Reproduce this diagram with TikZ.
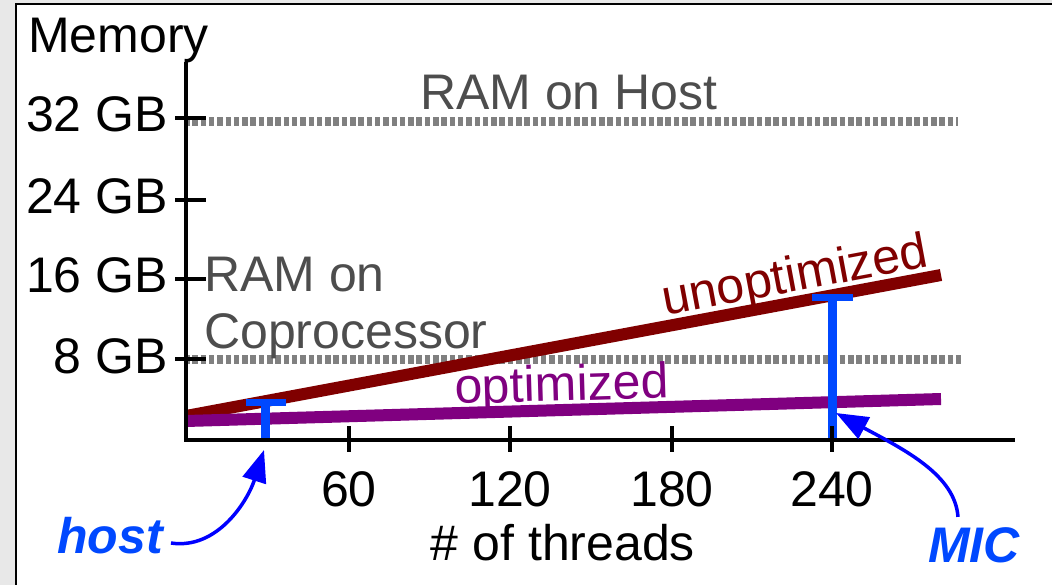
\documentclass[tikz,border=0pt]{standalone}
\usepackage{fontspec}
\setmainfont{Liberation Sans}
\usetikzlibrary{positioning}
\usetikzlibrary{arrows.meta}

\definecolor{paper}{RGB}{232,232,232}
\definecolor{ramgray}{RGB}{128,128,128}
\definecolor{textgray}{RGB}{77,77,77}
\definecolor{unoptred}{RGB}{128,0,0}
\definecolor{optpurple}{RGB}{128,0,128}
\definecolor{barblue}{RGB}{0,72,255}
\definecolor{arrowblue}{RGB}{0,0,255}

\begin{document}
\begin{tikzpicture}[x = 1pt, y = -1pt,
		every node/.style = {font = \fontsize{50}{58}\selectfont, inner sep = 0pt},
		axis/.style = {black, line width = 4.5pt},
		ramline/.style = {ramgray, line width = 9pt, dash pattern = on 5.5pt off 2.8pt},
		dataline/.style = {line width = 12pt},
		bar/.style = {barblue, line width = 9pt},
		pointer/.style = {arrowblue, line width = 3.5pt, -{Triangle[length = 32pt, width = 24pt]}}]
	\useasboundingbox (0, 0) rectangle (1052, 585);
	\fill[paper] (0, 0) rectangle (1052, 585);
	\draw[black, line width = 2pt, fill = white] (15.5, 4) rectangle (1070, 600);

	% limits of the two memories
	\draw[ramline] (184, 122)--(958, 122);
	\draw[ramline] (184, 359)--(962, 359);
	\node[textgray, anchor = base west] (hostram) at (420, 110) {RAM on Host};
	\node[textgray, anchor = base west] (copram) at (204, 292) {RAM on};
	\node[textgray, anchor = base west] (copram2) at (204, 348) {Coprocessor};

	% memory use against threads
	\coordinate (unoptstart) at (186, 416);
	\coordinate (unoptend) at (941, 275);
	\coordinate (optstart) at (186, 421);
	\coordinate (optend) at (941, 399);
	\draw[unoptred, dataline] (unoptstart)--(unoptend);
	\draw[optpurple, dataline] (optstart)--(optend);
	\node[unoptred, anchor = base west, rotate = 10.6] (unoptlabel) at (665, 316) {unoptimized};
	\node[optpurple, anchor = base west, rotate = 1.7] (optlabel) at (455, 404) {optimized};

	% host and MIC bars
	\draw[bar] (265, 402)--(265, 440);
	\draw[bar, line width = 7pt] (246, 402)--(286, 402);
	\draw[bar] (832, 298)--(832, 440);
	\draw[bar, line width = 7pt] (812, 298)--(853, 298);

	% axes
	\draw[axis] (186, 62)--(186, 440)--(1015, 440);
	\node[anchor = base west] (memlabel) at (28, 53) {Memory};
	\foreach \gb/\yy in {32/118, 24/200, 16/279, 8/359} {
		\draw[axis, line width = 3.5pt] (175, \yy)--(206, \yy);
		\node[anchor = base east] (gb\gb) at (168, \yy + 14) {\gb{} GB};
	}
	\foreach \t/\xx in {60/349, 120/510, 180/672, 240/832} {
		\draw[axis, line width = 3.5pt] (\xx, 426)--(\xx, 452);
		\node[anchor = base] (th\t) at (\xx, 506) {\t};
	}
	\node[anchor = base] (threadlabel) at (563, 560) {\# of threads};

	% pointers
	\node[barblue, anchor = base west, font = \fontsize{50}{58}\selectfont\bfseries\itshape] (hostlabel) at (57, 553) {host};
	\node[barblue, anchor = base west, font = \fontsize{50}{58}\selectfont\bfseries\itshape] (miclabel) at (928, 562) {MIC};
	\coordinate (hosttip) at (264, 450);
	\coordinate (mictip) at (836, 413);
	\draw[pointer] ([shift = {(8, -10)}]hostlabel.base east) .. controls (218, 550) and (248, 500) .. (hosttip);
	\draw[pointer] ([shift = {(30, -10)}]miclabel.north west) .. controls (955, 475) and (905, 450) .. (mictip);
\end{tikzpicture}
\end{document}
